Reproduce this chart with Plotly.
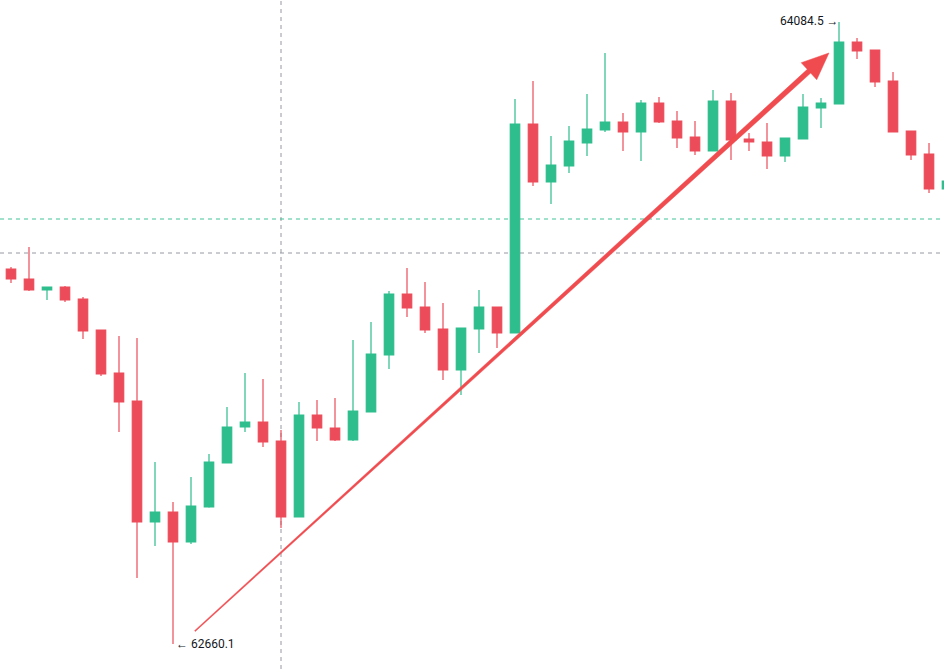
import plotly.graph_objects as go
import numpy as np

# ---- data ----
bar_index = list(range(-1, 53))
open_p = [63505.2, 63518.9, 63496.0, 63470.8, 63477.7, 63450.2, 63379.2, 63280.7, 63216.6, 62939.5,
          62962.4, 62893.7, 62973.9, 63074.6, 63157.1, 63168.5, 63125.0, 62951.0, 63184.6, 63154.8,
          63127.3, 63191.4, 63322.0, 63461.6, 63431.9, 63381.5, 63287.6, 63381.5, 63431.9, 63372.3,
          63850.9, 63718.1, 63754.8, 63807.4, 63837.2, 63855.5, 63832.6, 63899.0, 63857.8, 63821.2,
          63789.1, 63903.6, 63816.6, 63809.7, 63777.7, 63816.6, 63887.6, 63896.7, 64038.7, 64020.4,
          63949.4, 63834.9, 63782.2, 63702.1]
high_p = [63528.0, 63523.5, 63569.3, 63477.7, 63480.0, 63454.8, 63379.2, 63365.5, 63360.9, 63076.9,
          62985.3, 63042.6, 63095.2, 63202.9, 63280.7, 63267.0, 63150.2, 63214.3, 63218.9, 63223.5,
          63356.3, 63397.5, 63468.5, 63521.2, 63489.1, 63441.0, 63383.8, 63470.8, 63431.9, 63908.2,
          63949.4, 63823.5, 63846.4, 63919.6, 64013.5, 63876.1, 63905.9, 63912.8, 63880.7, 63857.8,
          63928.8, 63921.9, 63830.3, 63853.2, 63818.9, 63919.6, 63910.5, 64084.5, 64047.9, 64020.4,
          63970.0, 63834.9, 63807.4, 63734.2]
low_p = [63500.6, 63486.8, 63468.5, 63447.9, 63443.3, 63358.6, 63273.9, 63145.6, 62811.3, 62884.6,
         62660.1, 62889.1, 62972.0, 63074.6, 63145.6, 63111.3, 62925.8, 62951.0, 63125.0, 63125.0,
         63125.0, 63191.4, 63289.9, 63409.0, 63372.3, 63264.7, 63230.4, 63326.5, 63338.0, 63372.3,
         63709.0, 63667.7, 63738.7, 63777.7, 63832.6, 63789.1, 63766.2, 63853.2, 63796.0, 63780.0,
         63789.1, 63768.5, 63789.1, 63747.9, 63763.9, 63816.6, 63841.8, 63896.7, 63999.8, 63935.7,
         63832.6, 63768.5, 63692.9, 63699.8]
close_p = [63521.2, 63496.0, 63470.8, 63477.7, 63447.9, 63376.9, 63278.4, 63214.3, 62939.5, 62962.4,
           62893.7, 62976.2, 63076.9, 63157.1, 63168.5, 63122.7, 62951.0, 63184.6, 63154.8, 63127.3,
           63193.7, 63324.2, 63461.6, 63429.6, 63379.2, 63287.6, 63383.8, 63431.9, 63372.3, 63850.9,
           63718.1, 63757.1, 63812.0, 63839.5, 63855.5, 63832.6, 63899.0, 63855.5, 63818.9, 63789.1,
           63903.6, 63814.3, 63809.7, 63777.7, 63818.9, 63889.9, 63899.0, 64038.7, 64018.1, 63947.1,
           63832.6, 63780.0, 63702.1, 63720.4]

high_label = 64084.5
high_bar = 46
low_label = 62660.1
low_bar = 9

crosshair_bar = 15
crosshair_price = 63555.5
level_price = 63633.4

arrow_start = (10.22, 62689.9)
arrow_end = (45.44, 64013.5)

# ---- styles ----
UP = "#2ebd8c"
DOWN = "#ec4c5a"
W, H = 944, 669
X_RANGE = [-0.611, 51.833]
Y_RANGE = [62602.9, 64134.9]

fig = go.Figure()
fig.add_trace(go.Candlestick(
    x=bar_index, open=open_p, high=high_p, low=low_p, close=close_p,
    increasing=dict(line=dict(color=UP, width=1.2), fillcolor=UP),
    decreasing=dict(line=dict(color=DOWN, width=1.2), fillcolor=DOWN),
    whiskerwidth=0, hoverinfo="skip", showlegend=False,
))

# crosshair + level lines
fig.add_shape(type="line", xref="x", yref="paper", x0=crosshair_bar, x1=crosshair_bar, y0=0, y1=1,
              line=dict(color="#9598a1", width=1, dash="4px,4px"), layer="below")
fig.add_shape(type="line", xref="paper", yref="y", x0=0, x1=1, y0=crosshair_price, y1=crosshair_price,
              line=dict(color="#9598a1", width=1, dash="4px,4px"), layer="below")
fig.add_shape(type="line", xref="paper", yref="y", x0=0, x1=1, y0=level_price, y1=level_price,
              line=dict(color="rgba(46,189,140,0.9)", width=1, dash="4px,4px"), layer="below")

# tapered arrow built in pixel space, converted back to data coordinates
def to_px(xv, yv):
    return ((xv - X_RANGE[0]) / (X_RANGE[1] - X_RANGE[0]) * W,
            (Y_RANGE[1] - yv) / (Y_RANGE[1] - Y_RANGE[0]) * H)

def to_data(px, py):
    return (X_RANGE[0] + px / W * (X_RANGE[1] - X_RANGE[0]),
            Y_RANGE[1] - py / H * (Y_RANGE[1] - Y_RANGE[0]))

S = np.array(to_px(*arrow_start))
T = np.array(to_px(*arrow_end))
u = (T - S) / np.linalg.norm(T - S)
n = np.array([-u[1], u[0]])
head_len, head_half, w0, w1 = 27.0, 11.5, 1.0, 5.0
B = T - u * head_len
pts = [S + n * w0 / 2, B + n * w1 / 2, B + n * head_half, T,
       B - n * head_half, B - n * w1 / 2, S - n * w0 / 2]
path = ""
for i, p in enumerate(pts):
    dx, dy = to_data(p[0], p[1])
    path += ("M" if i == 0 else "L") + f"{dx},{dy} "
path += "Z"
fig.add_shape(type="path", xref="x", yref="y", path=path,
              fillcolor="#f04b4f", line=dict(color="#f04b4f", width=0.5), layer="above")

# high / low labels
fig.add_annotation(x=high_bar, y=high_label, xref="x", yref="y", text=f"{high_label} →",
                   showarrow=False, xanchor="right", yanchor="middle", xshift=2, yshift=1,
                   font=dict(family="Roboto, Arial", size=12, color="#131722"))
fig.add_annotation(x=low_bar, y=low_label, xref="x", yref="y", text=f"← {low_label}",
                   showarrow=False, xanchor="left", yanchor="middle", xshift=1,
                   font=dict(family="Roboto, Arial", size=12, color="#131722"))

fig.update_layout(
    width=W, height=H, margin=dict(l=0, r=0, t=0, b=0),
    paper_bgcolor="white", plot_bgcolor="white",
    boxgap=0.25, showlegend=False, hovermode=False,
    xaxis=dict(range=X_RANGE, visible=False, showgrid=False, zeroline=False,
               rangeslider=dict(visible=False), fixedrange=True),
    yaxis=dict(range=Y_RANGE, visible=False, showgrid=False, zeroline=False, fixedrange=True),
)

fig.write_html("out.html", config={"displayModeBar": False})
